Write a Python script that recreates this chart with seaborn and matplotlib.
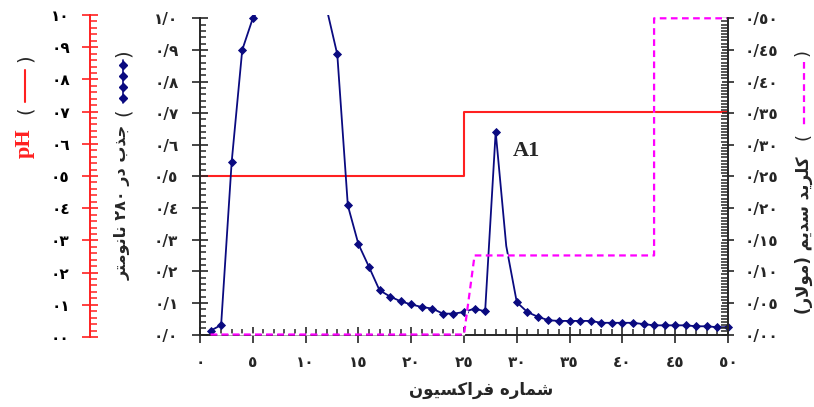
import re
import matplotlib
matplotlib.use('Agg')
import matplotlib.pyplot as plt
from matplotlib.lines import Line2D
from matplotlib.ticker import FixedLocator, MultipleLocator
from matplotlib.transforms import Bbox, TransformedBbox
import pandas as pd
import seaborn as sns

# absorbance at 280 nm for each fraction (values above 1.0 run off the top of the chart)
fractions = list(range(1, 51))
absorbance = [0.012, 0.03, 0.546, 0.90, 1.0, 1.05, 1.6, 2.0, 2.2, 2.0, 1.6, 1.03,
              0.886, 0.408, 0.286, 0.214, 0.14, 0.12, 0.105, 0.095, 0.087, 0.082,
              0.066, 0.066, 0.071, 0.082, 0.073, 0.641, 0.28, 0.102, 0.071, 0.056,
              0.045, 0.043, 0.043, 0.043, 0.043, 0.037, 0.037, 0.037, 0.037, 0.033,
              0.029, 0.029, 0.029, 0.029, 0.026, 0.026, 0.023, 0.023]
# fraction 29 has no marker in the original
no_marker = [29]

# pH steps
ph_x = [0, 25, 25, 50]
ph_y = [5, 5, 7, 7]

# NaCl gradient (molar)
nacl_x = [1, 25, 26, 43, 43, 50]
nacl_y = [0, 0, 0.125, 0.125, 0.5, 0.5]

x_ticks = [0, 5, 10, 15, 20, 25, 30, 35, 40, 45, 50]
x_labels = ['٠', '٥', '١٠', '١٥', '٢٠', '٢٥', '٣٠', '٣٥', '٤٠', '٤٥', '٥٠']
abs_ticks = [0, 0.1, 0.2, 0.3, 0.4, 0.5, 0.6, 0.7, 0.8, 0.9, 1.0]
abs_labels = ['٠/٠', '٠/١', '٠/٢', '٠/٣', '٠/٤', '٠/٥', '٠/٦', '٠/٧', '٠/٨', '٠/٩', '١/٠']
ph_ticks = [0, 1, 2, 3, 4, 5, 6, 7, 8, 9, 10]
ph_labels = ['٠٠', '٠١', '٠٢', '٠٣', '٠٤', '٠٥', '٠٦', '٠٧', '٠٨', '٠٩', '١٠']
nacl_ticks = [0, 0.05, 0.1, 0.15, 0.2, 0.25, 0.3, 0.35, 0.4, 0.45, 0.5]
nacl_labels = ['٠/٠٠', '٠/٠٥', '٠/١٠', '٠/١٥', '٠/٢٠', '٠/٢٥', '٠/٣٠', '٠/٣٥', '٠/٤٠', '٠/٤٥', '٠/٥٠']

x_title = 'شماره فراکسیون'
abs_title = 'جذب در ٢٨٠ نانومتر'
nacl_title = 'کلرید سدیم (مولار)'
peak_name = 'A1'
peak_pos = (29.6, 0.58)

# matplotlib does not join arabic letters, so pick the presentation forms by hand
FORMS = {
    'ا': ('\ufe8d', '\ufe8e', None, None),
    'ب': ('\ufe8f', '\ufe90', '\ufe91', '\ufe92'),
    'ت': ('\ufe95', '\ufe96', '\ufe97', '\ufe98'),
    'ج': ('\ufe9d', '\ufe9e', '\ufe9f', '\ufea0'),
    'د': ('\ufea9', '\ufeaa', None, None),
    'ذ': ('\ufeab', '\ufeac', None, None),
    'ر': ('\ufead', '\ufeae', None, None),
    'س': ('\ufeb1', '\ufeb2', '\ufeb3', '\ufeb4'),
    'ش': ('\ufeb5', '\ufeb6', '\ufeb7', '\ufeb8'),
    'ف': ('\ufed1', '\ufed2', '\ufed3', '\ufed4'),
    'ل': ('\ufedd', '\ufede', '\ufedf', '\ufee0'),
    'م': ('\ufee1', '\ufee2', '\ufee3', '\ufee4'),
    'ن': ('\ufee5', '\ufee6', '\ufee7', '\ufee8'),
    'ه': ('\ufee9', '\ufeea', '\ufeeb', '\ufeec'),
    'و': ('\ufeed', '\ufeee', None, None),
    'ک': ('\ufb8e', '\ufb8f', '\ufb90', '\ufb91'),
    'ی': ('\ufbfc', '\ufbfd', '\ufbfe', '\ufbff'),
    '\ufefb': ('\ufefb', '\ufefc', None, None),
}


def farsi(s):
    s = s.replace('لا', '\ufefb')
    out = []
    for i, c in enumerate(s):
        if c not in FORMS:
            out.append(c)
            continue
        prev = s[i - 1] if i > 0 else ''
        nxt = s[i + 1] if i + 1 < len(s) else ''
        jp = prev in FORMS and FORMS[prev][2] is not None
        jn = FORMS[c][2] is not None and nxt in FORMS
        iso, fin, ini, med = FORMS[c]
        out.append(med if jp and jn else fin if jp else ini if jn else iso)
    vis = ''.join(out)[::-1]
    vis = re.sub('[\u0660-\u0669\u06f0-\u06f9]+', lambda m: m.group()[::-1], vis)
    return vis.translate(str.maketrans('()', ')('))


sns.set_style('ticks')
plt.rcParams['font.family'] = ['DejaVu Sans']
plt.rcParams['font.weight'] = 'bold'

W, H = 814, 407
navy = '#0a0a80'
red = '#ff2020'
pink = '#ff00ff'

fig = plt.figure(figsize=(W / 100, H / 100), dpi=100)
fig.patch.set_facecolor('white')
ax_ph = fig.add_axes([200 / W, 1 - 337 / H, 528 / W, 322 / H])
ax = fig.add_axes([200 / W, 1 - 334.5 / H, 528 / W, 316.2 / H])
ax_na = ax.twinx()
ax_ph.set_zorder(1)
ax.set_zorder(2)
ax_na.set_zorder(3)
for a in (ax_ph, ax, ax_na):
    a.patch.set_visible(False)

df_abs = pd.DataFrame({'fraction': fractions, 'absorbance': absorbance})
marked = [i for i, f in enumerate(fractions) if f not in no_marker]
sns.lineplot(data=df_abs, x='fraction', y='absorbance', ax=ax, color=navy,
             linewidth=1.3, marker='D', markersize=4, markeredgecolor=navy,
             markeredgewidth=0.6, markevery=marked, estimator=None, sort=False)
sns.lineplot(x=ph_x, y=ph_y, ax=ax_ph, color=red, linewidth=1.5,
             estimator=None, sort=False)
sns.lineplot(x=nacl_x, y=nacl_y, ax=ax_na, color=pink, linewidth=1.6,
             estimator=None, sort=False)

# let the curve peek a few pixels over the frame like the original
ax.lines[0].set_clip_box(TransformedBbox(Bbox([[-0.02, -0.02], [1.02, 1.012]]), ax.transAxes))
na_line = ax_na.lines[0]
na_line.set_linestyle((0, (3, 2)))
na_line.set_gapcolor('white')
na_line.set_clip_on(False)

for a in (ax_ph, ax, ax_na):
    a.set_xlim(0, 50)
    a.set_xlabel('')
    a.set_ylabel('')
ax.set_ylim(0, 1)
ax_na.set_ylim(0, 0.5)
ax_ph.set_ylim(0, 10)

# spines
ax.spines['top'].set_visible(False)
ax.spines['right'].set_visible(False)
for s in ('top', 'left', 'bottom'):
    ax_na.spines[s].set_visible(False)
for s in ('top', 'right', 'bottom'):
    ax_ph.spines[s].set_visible(False)
ax_ph.spines['left'].set_position(('axes', -110 / 528))
ax_ph.spines['left'].set_color(red)
ax_ph.xaxis.set_visible(False)
for sp in (ax.spines['left'], ax.spines['bottom'], ax_na.spines['right'], ax_ph.spines['left']):
    sp.set_linewidth(1.4)

# x axis
ax.xaxis.set_major_locator(FixedLocator(x_ticks))
ax.set_xticklabels(x_labels)
ax.xaxis.set_minor_locator(MultipleLocator(1))
ax.tick_params(axis='x', which='major', direction='inout', length=11, width=1.2,
               pad=9, labelsize=11, bottom=True)
ax.tick_params(axis='x', which='minor', direction='in', length=4, width=1.1, bottom=True)

# absorbance axis
ax.yaxis.set_major_locator(FixedLocator(abs_ticks))
ax.set_yticklabels(abs_labels)
ax.yaxis.set_minor_locator(MultipleLocator(0.02))
ax.tick_params(axis='y', which='major', direction='inout', length=11, width=1.2,
               pad=10, labelsize=11, left=True)
ax.tick_params(axis='y', which='minor', direction='in', length=4, width=1.1, left=True)

# NaCl axis
ax_na.yaxis.set_major_locator(FixedLocator(nacl_ticks))
ax_na.set_yticklabels(nacl_labels)
ax_na.yaxis.set_minor_locator(MultipleLocator(0.005))
ax_na.tick_params(axis='y', which='major', direction='inout', length=8, width=1.2,
                  pad=8, labelsize=11, right=True)
ax_na.tick_params(axis='y', which='minor', direction='in', length=5, width=1.1, right=True)

# pH axis
ax_ph.yaxis.set_major_locator(FixedLocator(ph_ticks))
ax_ph.set_yticklabels(ph_labels)
ax_ph.yaxis.set_minor_locator(MultipleLocator(0.2))
ax_ph.tick_params(axis='y', which='major', direction='inout', length=11, width=1.2,
                  pad=9, labelsize=11, left=True, color=red, labelcolor='black')
ax_ph.tick_params(axis='y', which='minor', direction='in', length=5, width=1.1,
                  left=True, color=red)

ax.text(peak_pos[0], peak_pos[1], peak_name, fontsize=16, fontweight='bold',
        family='Liberation Serif', ha='left', va='center')


def fx(px):
    return px / W


def fy(py):
    return 1 - py / H


# axis titles with their little legend keys
fig.text(fx(481), fy(390), farsi(x_title), fontsize=12, ha='center', va='center')

fig.text(fx(25), fy(143), 'pH', color=red, fontsize=16, fontweight='bold',
         family='Liberation Serif', rotation=90, ha='center', va='center')
fig.text(fx(25), fy(110), '(', fontsize=14, fontweight='normal', rotation=90, ha='center', va='center')
fig.text(fx(25), fy(58), ')', fontsize=14, fontweight='normal', rotation=90, ha='center', va='center')
fig.add_artist(Line2D([fx(25), fx(25)], [fy(70), fy(102)], color=red, lw=1.5,
                      transform=fig.transFigure))

fig.text(fx(123), fy(202), farsi(abs_title), fontsize=11.5, rotation=90, ha='center', va='center')
fig.text(fx(123), fy(112), '(', fontsize=14, fontweight='normal', rotation=90, ha='center', va='center')
fig.text(fx(123), fy(53), ')', fontsize=14, fontweight='normal', rotation=90, ha='center', va='center')
fig.add_artist(Line2D([fx(123), fx(123)], [fy(60), fy(103)], color=navy, lw=1.2,
                      transform=fig.transFigure))
fig.add_artist(Line2D([fx(123)] * 4, [fy(65), fy(76), fy(87), fy(98)], color=navy, lw=0,
                      marker='D', markersize=4, transform=fig.transFigure))

fig.text(fx(804), fy(235), farsi(nacl_title), fontsize=12, rotation=90, ha='center', va='center')
fig.text(fx(803), fy(136), '(', fontsize=13, fontweight='normal', rotation=90, ha='center', va='center')
fig.text(fx(803), fy(53), ')', fontsize=13, fontweight='normal', rotation=90, ha='center', va='center')
fig.add_artist(Line2D([fx(804), fx(804)], [fy(62), fy(128)], color=pink, lw=1.6,
                      ls=(0, (3, 2)), transform=fig.transFigure))

fig.savefig('out.png', dpi=100, facecolor='white')
